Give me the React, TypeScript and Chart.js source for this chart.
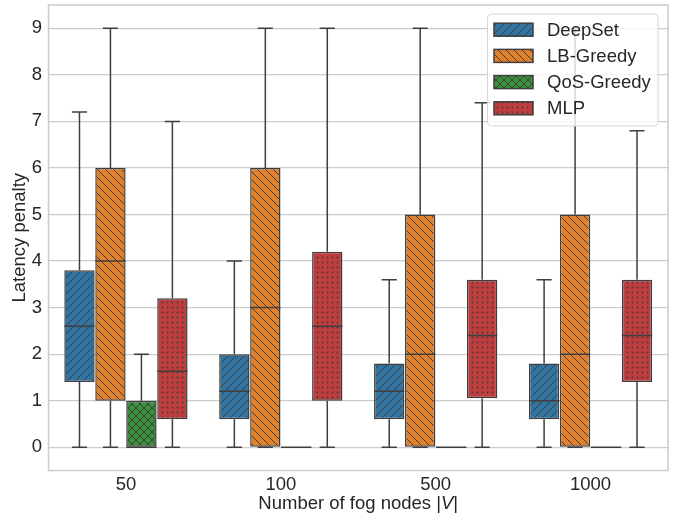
import React, { useEffect, useRef } from 'react';
import { Chart, registerables } from 'chart.js';

Chart.register(...registerables);

// ---- data ----
const categories = ['50', '100', '500', '1000'];
const seriesNames = ['DeepSet', 'LB-Greedy', 'QoS-Greedy', 'MLP'];
const seriesColors = ['#3274a1', '#e1812c', '#3a923a', '#c03d3e'];
const seriesHatches = ['//', '\\\\', 'xx', '..'];
const yTicks = [0, 1, 2, 3, 4, 5, 6, 7, 8, 9];

const deepSetMin = [0, 0, 0, 0];
const deepSetQ1 = [1.4, 0.6, 0.6, 0.6];
const deepSetMedian = [2.6, 1.2, 1.2, 1.0];
const deepSetQ3 = [3.8, 2.0, 1.8, 1.8];
const deepSetMax = [7.2, 4.0, 3.6, 3.6];

const lbGreedyMin = [0, 0, 0, 0];
const lbGreedyQ1 = [1, 0, 0, 0];
const lbGreedyMedian = [4, 3, 2, 2];
const lbGreedyQ3 = [6, 6, 5, 5];
const lbGreedyMax = [9, 9, 9, 9];

const qosGreedyMin = [0, 0, 0, 0];
const qosGreedyQ1 = [0, 0, 0, 0];
const qosGreedyMedian = [0, 0, 0, 0];
const qosGreedyQ3 = [1, 0, 0, 0];
const qosGreedyMax = [2, 0, 0, 0];

const mlpMin = [0, 0, 0, 0];
const mlpQ1 = [0.6, 1.0, 1.05, 1.4];
const mlpMedian = [1.63, 2.6, 2.4, 2.4];
const mlpQ3 = [3.2, 4.2, 3.6, 3.6];
const mlpMax = [7.0, 9.0, 7.4, 6.8];

const seriesStats = [
  { min: deepSetMin, q1: deepSetQ1, med: deepSetMedian, q3: deepSetQ3, max: deepSetMax },
  { min: lbGreedyMin, q1: lbGreedyQ1, med: lbGreedyMedian, q3: lbGreedyQ3, max: lbGreedyMax },
  { min: qosGreedyMin, q1: qosGreedyQ1, med: qosGreedyMedian, q3: qosGreedyQ3, max: qosGreedyMax },
  { min: mlpMin, q1: mlpQ1, med: mlpMedian, q3: mlpQ3, max: mlpMax },
];

// ---- styles ----
const FONT = '"Liberation Sans", Arial, Helvetica, sans-serif';
const TEXT = '#262626';
const LINE = '#3f3f3f';
const GRID = '#cccccc';
const FS = 18.5;

function makePattern(color: string, hatch: string): CanvasPattern | string {
  const s = hatch === '..' ? 5 : 8;
  const c = document.createElement('canvas');
  c.width = s;
  c.height = s;
  const g = c.getContext('2d');
  if (!g) return color;
  g.fillStyle = color;
  g.fillRect(0, 0, s, s);
  g.strokeStyle = LINE;
  g.fillStyle = LINE;
  g.lineWidth = 1;
  if (hatch === '//' || hatch === 'xx') {
    g.beginPath();
    for (const x0 of [-s, 0, s]) {
      g.moveTo(x0, s);
      g.lineTo(x0 + s, 0);
    }
    g.stroke();
  }
  if (hatch === '\\\\' || hatch === 'xx') {
    g.beginPath();
    for (const x0 of [-s, 0, s]) {
      g.moveTo(x0, 0);
      g.lineTo(x0 + s, s);
    }
    g.stroke();
  }
  if (hatch === '..') {
    g.beginPath();
    g.arc(2.5, 2.5, 0.9, 0, Math.PI * 2);
    g.fill();
  }
  const p = g.createPattern(c, 'repeat');
  return p || color;
}

export default function App() {
  const ref = useRef<HTMLCanvasElement | null>(null);

  useEffect(() => {
    const canvas = ref.current;
    if (!canvas) return;
    const patterns = seriesColors.map((col, i) => makePattern(col, seriesHatches[i]));

    const framePlugin = {
      id: 'frame',
      beforeDatasetsDraw(chart: any) {
        const { ctx, chartArea: a } = chart;
        ctx.save();
        ctx.strokeStyle = GRID;
        ctx.lineWidth = 1.5;
        ctx.strokeRect(a.left, a.top, a.right - a.left, a.bottom - a.top);
        ctx.restore();
      },
    };

    const whiskerPlugin = {
      id: 'whiskers',
      afterDatasetsDraw(chart: any) {
        const ctx = chart.ctx;
        const ys = chart.scales.y;
        ctx.save();
        ctx.strokeStyle = LINE;
        ctx.lineWidth = 1.5;
        ctx.lineCap = 'butt';
        chart.data.datasets.forEach((_ds: any, di: number) => {
          const meta = chart.getDatasetMeta(di);
          const st = seriesStats[di];
          meta.data.forEach((bar: any, i: number) => {
            const { x, width } = bar.getProps(['x', 'width'], true);
            const half = width / 2;
            const pMin = ys.getPixelForValue(st.min[i]);
            const pQ1 = ys.getPixelForValue(st.q1[i]);
            const pMed = ys.getPixelForValue(st.med[i]);
            const pQ3 = ys.getPixelForValue(st.q3[i]);
            const pMax = ys.getPixelForValue(st.max[i]);
            ctx.beginPath();
            ctx.moveTo(x, pQ3);
            ctx.lineTo(x, pMax);
            ctx.moveTo(x, pQ1);
            ctx.lineTo(x, pMin);
            ctx.moveTo(x - half / 2, pMax);
            ctx.lineTo(x + half / 2, pMax);
            ctx.moveTo(x - half / 2, pMin);
            ctx.lineTo(x + half / 2, pMin);
            ctx.moveTo(x - half, pMed);
            ctx.lineTo(x + half, pMed);
            ctx.stroke();
          });
        });
        ctx.restore();
      },
    };

    const legendPlugin = {
      id: 'customLegend',
      afterDraw(chart: any) {
        const ctx = chart.ctx;
        const a = chart.chartArea;
        ctx.save();
        ctx.fillStyle = TEXT;
        ctx.font = `${FS}px ${FONT}`;
        ctx.textBaseline = 'middle';
        const xt1 = 'Number of fog nodes |';
        const xt2 = 'V';
        const xt3 = '|';
        const w1 = ctx.measureText(xt1).width;
        ctx.font = `italic ${FS}px ${FONT}`;
        const w2 = ctx.measureText(xt2).width;
        ctx.font = `${FS}px ${FONT}`;
        const w3 = ctx.measureText(xt3).width;
        const cx = (a.left + a.right) / 2;
        let sx = cx - (w1 + w2 + w3) / 2;
        const ty = 504;
        ctx.textAlign = 'left';
        ctx.fillText(xt1, sx, ty);
        sx += w1;
        ctx.font = `italic ${FS}px ${FONT}`;
        ctx.fillText(xt2, sx, ty);
        sx += w2;
        ctx.font = `${FS}px ${FONT}`;
        ctx.fillText(xt3, sx, ty);

        ctx.save();
        ctx.translate(20, (a.top + a.bottom) / 2);
        ctx.rotate(-Math.PI / 2);
        ctx.textAlign = 'center';
        ctx.fillText('Latency penalty', 0, 0);
        ctx.restore();

        const lx = 487.5, ly = 14, lw = 170.5, lh = 112, r = 4;
        ctx.beginPath();
        ctx.moveTo(lx + r, ly);
        ctx.lineTo(lx + lw - r, ly);
        ctx.quadraticCurveTo(lx + lw, ly, lx + lw, ly + r);
        ctx.lineTo(lx + lw, ly + lh - r);
        ctx.quadraticCurveTo(lx + lw, ly + lh, lx + lw - r, ly + lh);
        ctx.lineTo(lx + r, ly + lh);
        ctx.quadraticCurveTo(lx, ly + lh, lx, ly + lh - r);
        ctx.lineTo(lx, ly + r);
        ctx.quadraticCurveTo(lx, ly, lx + r, ly);
        ctx.closePath();
        ctx.fillStyle = 'rgba(255,255,255,0.8)';
        ctx.fill();
        ctx.strokeStyle = '#d6d6d6';
        ctx.lineWidth = 1;
        ctx.stroke();

        seriesNames.forEach((name, i) => {
          const cy = 29.7 + i * 26.2;
          ctx.fillStyle = patterns[i] as any;
          ctx.fillRect(494, cy - 6.5, 39, 13);
          ctx.strokeStyle = LINE;
          ctx.lineWidth = 1.5;
          ctx.strokeRect(494, cy - 6.5, 39, 13);
          ctx.fillStyle = TEXT;
          ctx.font = `${FS}px ${FONT}`;
          ctx.textAlign = 'left';
          ctx.textBaseline = 'middle';
          ctx.fillText(name, 547, cy + 1);
        });
        ctx.restore();
      },
    };

    const datasets = seriesNames.map((name, di) => ({
      label: name,
      data: categories.map((_c, i) => [seriesStats[di].q1[i], seriesStats[di].q3[i]]),
      backgroundColor: patterns[di] as any,
      borderColor: LINE,
      borderWidth: 1.5,
      borderSkipped: false,
      categoryPercentage: 0.8,
      barPercentage: 0.98,
    }));

    const chart = new Chart(canvas, {
      type: 'bar',
      data: { labels: categories, datasets: datasets as any },
      options: {
        animation: false,
        responsive: false,
        maintainAspectRatio: false,
        layout: { padding: { top: 5, right: 10, left: 0, bottom: 0 } },
        plugins: {
          legend: { display: false },
          tooltip: { enabled: false },
          title: { display: false },
        },
        scales: {
          x: {
            grid: { display: false, drawTicks: false },
            border: { display: false },
            ticks: { color: TEXT, font: { family: FONT, size: FS }, padding: 3 },
            afterFit: (s: any) => {
              s.height = 48.5;
              s.paddingLeft = 0;
              s.paddingRight = 0;
            },
          },
          y: {
            min: -0.5,
            max: 9.5,
            grid: { color: GRID, lineWidth: 1.2, drawTicks: false },
            border: { display: false },
            ticks: { color: TEXT, font: { family: FONT, size: FS }, padding: 6.5 },
            afterBuildTicks: (s: any) => { s.ticks = yTicks.map((v) => ({ value: v })); },
            afterFit: (s: any) => {
              s.width = 48.5;
              s.paddingTop = 0;
              s.paddingBottom = 0;
            },
          },
        },
      },
      plugins: [framePlugin, whiskerPlugin, legendPlugin],
    });
    return () => chart.destroy();
  }, []);

  return (
    <div style={{ position: 'fixed', left: 0, top: 0, width: 678, height: 519, background: '#fff' }}>
      <canvas ref={ref} width={678} height={519} style={{ width: 678, height: 519, display: 'block' }} />
    </div>
  );
}
